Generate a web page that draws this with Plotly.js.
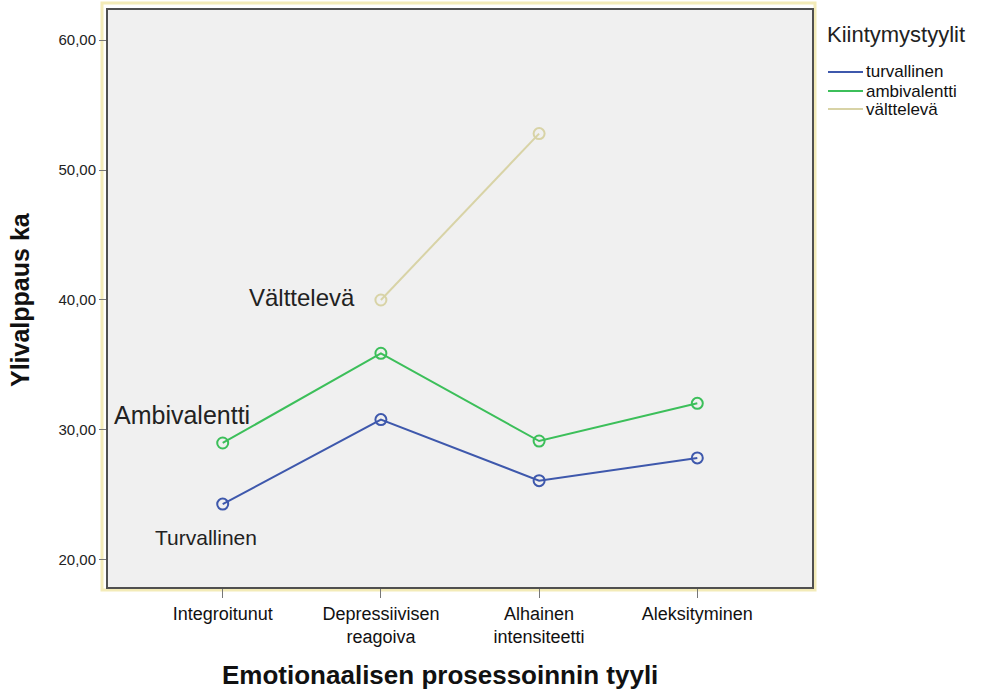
<!DOCTYPE html>
<html>
<head>
<meta charset="utf-8">
<script src="https://cdn.plot.ly/plotly-3.0.1.min.js"></script>
<style>html,body{margin:0;padding:0;background:#fff;}#chart{width:981px;height:691px;}</style>
</head>
<body>
<div id="chart"></div>
<script>
const categories = ["Integroitunut", "Depressiivisen<br>reagoiva", "Alhainen<br>intensiteetti", "Aleksityminen"];
const seriesNames = ["turvallinen", "ambivalentti", "välttelevä"];
const turvallinen = [24.3, 30.8, 26.1, 27.85];
const ambivalentti = [29.0, 35.9, 29.15, 32.05];
const valttelava = [null, 40.0, 52.8, null];
const seriesColors = ["#3e58ac", "#3cbf5a", "#d8d3a6"];
const yTicks = [20, 30, 40, 50, 60];
const inlineLabels = ["Välttelevä", "Ambivalentti", "Turvallinen"];
const legendTitle = "Kiintymystyylit";
const xTitle = "Emotionaalisen prosessoinnin tyyli";
const yTitle = "Ylivalppaus ka";

const FONT = "Liberation Sans, Arial, sans-serif";
const values = [turvallinen, ambivalentti, valttelava];

const traces = values.map((v, i) => ({
  type: "scatter", mode: "lines+markers", x: categories, y: v,
  name: seriesNames[i], showlegend: false, connectgaps: false,
  line: {color: seriesColors[i], width: 2},
  marker: {symbol: "circle-open", size: 11, color: seriesColors[i], line: {width: 2, color: seriesColors[i]}},
  hoverinfo: "x+y+name"
}));

// plot area in px: x 108..812, y 10..587
const PX = (px) => (px - 108) / 704;
const PY = (py) => (587 - py) / 577;

const shapes = [{
  type: "rect", xref: "paper", yref: "paper", layer: "below",
  x0: PX(102), x1: PX(815), y0: PY(590), y1: PY(3),
  line: {color: "#f3ebb8", width: 3}, fillcolor: "rgba(0,0,0,0)"
}];
const annotations = [
  {text: legendTitle, xref: "paper", yref: "paper", x: PX(825), y: PY(35), xanchor: "left", yanchor: "middle", showarrow: false, font: {size: 22, color: "#222"}},
  {text: inlineLabels[0], xref: "paper", yref: "paper", x: PX(357), y: PY(297), xanchor: "right", yanchor: "middle", showarrow: false, font: {size: 24, color: "#222"}},
  {text: inlineLabels[1], xref: "paper", yref: "paper", x: PX(252), y: PY(415), xanchor: "right", yanchor: "middle", showarrow: false, font: {size: 25, color: "#222"}},
  {text: inlineLabels[2], xref: "paper", yref: "paper", x: PX(259), y: PY(537), xanchor: "right", yanchor: "middle", showarrow: false, font: {size: 21, color: "#222"}},
  {text: "<b>" + xTitle + "</b>", xref: "paper", yref: "paper", x: PX(440), y: PY(675), xanchor: "center", yanchor: "middle", showarrow: false, font: {size: 26, color: "#111"}},
  {text: "<b>" + yTitle + "</b>", xref: "paper", yref: "paper", x: PX(20), y: PY(300), xanchor: "center", yanchor: "middle", textangle: -90, showarrow: false, font: {size: 25, color: "#111"}}
];
const legendY = [72, 91, 109];
seriesNames.forEach((n, i) => {
  shapes.push({type: "line", xref: "paper", yref: "paper", x0: PX(828), x1: PX(863), y0: PY(legendY[i]), y1: PY(legendY[i]),
    line: {color: seriesColors[i], width: 2}});
  annotations.push({text: n, xref: "paper", yref: "paper", x: PX(864), y: PY(legendY[i]), xanchor: "left", yanchor: "middle",
    showarrow: false, font: {size: 17, color: "#111"}});
});

const layout = {
  width: 981, height: 691,
  paper_bgcolor: "#ffffff", plot_bgcolor: "#f0f0f0",
  separators: ", ",
  font: {family: FONT, color: "#222"},
  margin: {l: 108, r: 169, t: 10, b: 104},
  showlegend: false,
  xaxis: {
    type: "category", range: [-0.725, 3.725],
    showgrid: false, zeroline: false,
    showline: true, mirror: true, linecolor: "#505050", linewidth: 2,
    ticks: "outside", ticklen: 9, tickcolor: "#777", tickwidth: 1,
    tickfont: {size: 18, color: "#111"}
  },
  yaxis: {
    range: [17.92, 62.31], tickvals: yTicks, tickformat: ".2f",
    showgrid: false, zeroline: false,
    showline: true, mirror: true, linecolor: "#505050", linewidth: 2,
    ticks: "outside", ticklen: 7, tickcolor: "#777", tickwidth: 1,
    tickfont: {size: 15, color: "#222"}
  },
  shapes: shapes,
  annotations: annotations
};

Plotly.newPlot("chart", traces, layout, {displayModeBar: false, staticPlot: true});
</script>
</body>
</html>
